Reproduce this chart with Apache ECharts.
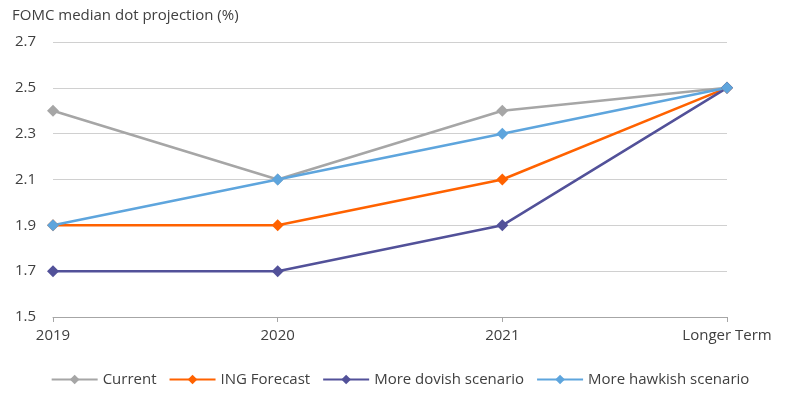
<!doctype html>
<html>
<head>
	<meta charset="utf-8">
	<title>FOMC median dot projection</title>
	<style>
		html,body{margin:0;padding:0;background:#fff;}
	</style>
</head>
<body>
<div id="main" style="width:800px;height:412px;"></div>
<script src="https://cdn.jsdelivr.net/npm/echarts@6/dist/echarts.min.js"></script>
<script>
	var categories = ['2019', '2020', '2021', 'Longer Term']
	var current = [2.4, 2.1, 2.4, 2.5]
	var ingForecast = [1.9, 1.9, 2.1, 2.5]
	var dovish = [1.7, 1.7, 1.9, 2.5]
	var hawkish = [1.9, 2.1, 2.3, 2.5]

	var textColor = '#404040'
	var fontFamily = '"Open Sans", "Noto Sans", sans-serif'

	function line(name, data, color) {
		return {
			name: name,
			type: 'line',
			data: data,
			symbol: 'diamond',
			symbolSize: 12,
			lineStyle: { width: 2.5, color: color },
			itemStyle: { color: color },
			animation: false
		}
	}

	var myChart = echarts.init(document.getElementById('main'))
	var option = {
		textStyle: { fontFamily: fontFamily },
		title: {
			text: 'FOMC median dot projection (%)',
			left: 7,
			top: 3,
			textStyle: { fontSize: 15, fontWeight: 'normal', color: textColor, fontFamily: fontFamily }
		},
		grid: { left: 53, right: 73, top: 42, bottom: 95 },
		legend: {
			bottom: 20,
			left: 'center',
			itemWidth: 46,
			itemHeight: 12,
			itemGap: 12,
			textStyle: { fontSize: 15, color: textColor },
			data: ['Current', 'ING Forecast', 'More dovish scenario', 'More hawkish scenario']
		},
		xAxis: {
			type: 'category',
			data: categories,
			boundaryGap: false,
			axisLine: { lineStyle: { color: '#a6a6a6', width: 1 } },
			axisTick: { show: true, length: 5, lineStyle: { color: '#a6a6a6' } },
			axisLabel: { fontSize: 15, color: textColor, margin: 11 }
		},
		yAxis: {
			type: 'value',
			min: 1.5,
			max: 2.7,
			interval: 0.2,
			axisLine: { show: false },
			axisTick: { show: false },
			axisLabel: { fontSize: 15, color: textColor, margin: 17, formatter: function (v) { return v.toFixed(1) } },
			splitLine: { lineStyle: { color: '#d0d0d0', width: 1 } }
		},
		series: [
			line('Current', current, '#a6a6a6'),
			line('ING Forecast', ingForecast, '#ff6200'),
			line('More dovish scenario', dovish, '#525199'),
			line('More hawkish scenario', hawkish, '#5ea5dd')
		]
	}
	myChart.setOption(option)
</script>
</body>
</html>
